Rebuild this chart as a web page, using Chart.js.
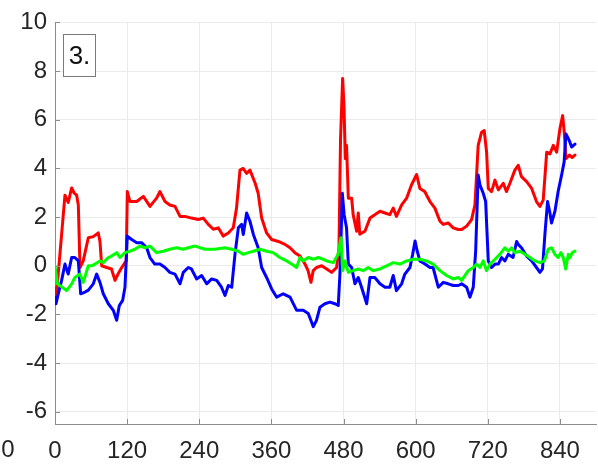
<!DOCTYPE html>
<html>
<head>
<meta charset="utf-8">
<script src="https://cdn.jsdelivr.net/npm/chart.js@4/dist/chart.umd.min.js"></script>
<style>
  html, body { margin: 0; padding: 0; background: #ffffff; }
  #wrap { width: 598px; height: 465px; position: relative; }
</style>
</head>
<body>
<div id="wrap"><canvas id="c" width="598" height="465"></canvas></div>
<script>
// Sample positions and values for the three traces
const redX = [0,2,16.6,22,27.7,31.6,36,38.8,41.6,47,55.4,63.7,72,74.8,77.7,86,94,99.8,105,111,116.4,118.5,120.3,124.7,136,147,158,169,174.6,183,191,199.6,208,216,227,238.5,246.7,255,263.4,271.6,280,288.3,296.6,302,307.7,313,318.8,324.3,333,338,343.8,352,360.4,371.5,382.6,390.9,399,407.5,416,421,425.8,429.6,435,443.6,452,460.2,468.5,472.4,475,478.5,480.7,483,485,488,493.5,496,501.8,504.5,507,515.6,524,532,540.6,549,557,562.7,568,576.7,585,593,601.6,607,615,623.8,632,640.4,646,654,662.5,670.8,676.5,684.8,693,698.6,704,709.7,714,718,720.8,726.3,731.9,737.5,745.7,751,756.8,765,770.6,776,784.6,793,801,806.7,812.2,818,823.4,829,834.5,840,844.5,847.2,850,856,860,865];
const redY = [-0.9,-1.3,2.9,2.6,3.2,3.0,2.9,2.5,-0.07,0.2,1.15,1.2,1.35,1.0,0.0,-0.07,-0.13,-0.6,-0.33,-0.07,0.13,0.2,3.05,2.64,2.64,2.85,2.44,2.78,3.05,2.64,2.5,2.44,2.03,2.03,1.96,1.9,1.96,1.7,1.5,1.56,1.22,1.35,1.56,2.37,3.93,4.0,3.8,3.93,3.39,2.98,1.96,1.35,1.08,1.0,0.88,0.74,0.54,0.4,0.07,-0.2,-0.68,-0.2,-0.07,0.0,-0.13,-0.27,-0.07,0.74,5.2,7.7,6.6,4.4,4.95,2.78,2.78,2.1,1.42,2.17,1.3,1.42,1.96,2.1,2.24,2.17,2.1,2.37,2.03,2.5,2.78,3.32,3.75,3.18,3.05,2.64,2.37,1.83,1.7,1.76,1.56,1.49,1.49,1.63,1.9,2.5,4.95,5.49,5.56,4.67,3.18,3.05,3.52,3.12,3.39,3.05,3.39,3.93,4.13,3.66,3.46,3.18,2.64,2.44,2.7,4.67,4.6,4.95,4.67,5.63,6.17,5.49,4.4,4.55,4.45,4.55];

const blueX = [0,1.7,5.5,11,16.6,22,27.7,33,38.8,42.7,50,55.5,63.7,69.3,74.8,80.3,88.7,97,102.6,107,112.6,116.4,120.3,127.5,136,144,152.5,158,166,174.6,183,191,199.6,208,213.4,221.7,227,235.7,244,252.3,260.6,269,277,282.8,288.3,294,299.4,305,310.5,313.2,318.8,324.3,330,338,343.8,352,360.4,368.8,379.7,391,402,413,421.3,429.7,435,440.8,449,457.4,465.7,471.2,474,478,481,485,488,493.5,499,504.5,510,518.5,524,532,540.6,549,557,562.7,568,576.7,582,590.5,595,599,602.6,607,615.5,623.8,629,637.6,646,654,662.5,670.8,676.5,684.8,690.3,695.8,699.8,704,707,712.4,716.4,720.8,726.3,732,737.5,743,748.5,754,762,768,770.6,776,784.6,793,801,806.7,811,815,819.4,823.4,826,831.7,837,842.8,847,850,854,856.6,859.4,865];
const blueY = [-1.3,-1.56,-1.15,-0.6,0.07,-0.34,0.34,0.34,0.2,-1.15,-1.08,-1.0,-0.74,-0.34,-0.68,-1.15,-1.56,-1.83,-2.24,-1.63,-1.42,-0.88,1.22,1.08,0.95,0.95,0.74,0.34,0.07,0.07,-0.07,-0.27,-0.34,-0.74,-0.27,-0.07,-0.13,-0.54,-0.4,-0.74,-0.54,-0.6,-0.88,-1.22,-0.81,-0.88,0.47,1.56,1.7,1.29,2.17,1.83,1.29,0.74,-0.07,-0.48,-0.95,-1.29,-1.15,-1.29,-1.83,-1.83,-1.96,-2.5,-2.24,-1.7,-1.56,-1.49,-1.56,-1.63,-0.34,2.98,2.1,1.56,0.07,-0.07,-0.74,-0.48,-0.88,-1.56,-0.48,-0.48,-0.74,-0.88,-0.88,-0.4,-1.02,-0.74,-0.34,-0.07,0.47,1.02,0.6,0.2,0.07,-0.07,-0.07,-0.88,-0.68,-0.74,-0.81,-0.81,-0.74,-0.88,-1.29,-0.88,0.6,3.73,3.32,2.98,2.64,0.2,-0.07,0.07,0.07,0.34,0.2,0.47,0.34,1.0,0.88,0.74,0.4,0.2,-0.07,-0.27,-0.13,1.29,2.64,2.17,1.76,2.24,3.05,3.73,4.27,5.42,5.22,5.08,4.88,5.0];

const greenX = [0,4,19.4,27.7,33,41.6,47,55.4,61,66.5,74.8,80.3,88.7,94,102.6,108,116.4,124.7,133,141.4,149.7,158,169,180,191,202,213.4,221.7,232.9,249.5,266,282.8,294,305,313,321.5,329.9,341,352,363,374,385.4,393.7,402,407.5,413,421.3,429.7,438,446,452,463,471,475.7,478.5,482.4,488,496,504.5,512.8,521,529.5,540.6,551.7,562.7,574,585,596,607,618,629,640.4,651.5,662.5,670.8,676.5,687.5,695.8,701.4,707,712.4,718,723.6,732,740,748.5,754,759.6,765,773.5,781.8,790,798.4,806.7,814,820.5,826,831.7,837,841.6,845.5,849.5,854,856.6,860.5,865];
const greenY = [0.0,-0.74,-1.02,-0.74,-0.48,-0.34,-0.68,0.0,0.0,0.07,0.2,0.13,0.34,0.4,0.54,0.34,0.54,0.6,0.68,0.81,0.74,0.81,0.54,0.6,0.68,0.74,0.68,0.74,0.81,0.68,0.68,0.74,0.68,0.6,0.47,0.54,0.6,0.68,0.6,0.54,0.34,0.2,0.07,-0.07,0.34,0.2,0.34,0.27,0.34,0.27,0.2,0.13,0.47,1.15,-0.2,0.2,-0.27,-0.2,-0.13,-0.2,-0.07,-0.2,-0.13,0.0,0.13,0.07,0.2,0.27,0.27,0.2,0.07,-0.2,-0.4,-0.54,-0.48,-0.6,-0.2,-0.07,0.07,-0.07,0.2,-0.2,0.07,0.27,0.47,0.74,0.6,0.74,0.54,0.6,0.47,0.34,0.2,0.13,0.2,0.68,0.74,0.47,0.34,0.54,0.34,-0.13,0.47,0.34,0.54,0.6];

const xTicks = [0,120,240,360,480,600,720,840];
const yTicks = [-6,-4,-2,0,2,4,6,8,10];
const panelLabel = '3.';

const FONT = '"Liberation Sans", Arial, Helvetica, sans-serif';
const AXIS_COLOR = '#8c8c8c';
const GRID_COLOR = '#ebebeb';
const TEXT_COLOR = '#262626';

function pts(xs, ys) { return xs.map((x, i) => ({ x: x, y: ys[i] })); }

// Inward tick marks, the panel tag and the leftover label at the lower left
const decorations = {
  id: 'decorations',
  afterDatasetsDraw(chart) {
    const { ctx, chartArea: a, scales: { x, y } } = chart;
    ctx.save();
    ctx.strokeStyle = AXIS_COLOR;
    ctx.lineWidth = 1;
    ctx.beginPath();
    xTicks.forEach(v => {
      const px = Math.round(x.getPixelForValue(v)) + 0.5;
      ctx.moveTo(px, a.bottom);
      ctx.lineTo(px, a.bottom - 5);
    });
    yTicks.forEach(v => {
      const py = Math.round(y.getPixelForValue(v)) + 0.5;
      ctx.moveTo(a.left, py);
      ctx.lineTo(a.left + 5, py);
    });
    ctx.stroke();

    // panel tag box
    ctx.fillStyle = '#ffffff';
    ctx.fillRect(63.5, 34.5, 32, 42);
    ctx.strokeStyle = '#7a7a7a';
    ctx.strokeRect(63.5, 34.5, 32, 42);
    ctx.fillStyle = '#111111';
    ctx.font = '26px ' + FONT;
    ctx.textAlign = 'center';
    ctx.textBaseline = 'middle';
    ctx.fillText(panelLabel, 79.5, 57);

    // stray tick label at the far left
    ctx.fillStyle = TEXT_COLOR;
    ctx.font = '24px ' + FONT;
    ctx.fillText('0', 8, 450);
    ctx.restore();
  }
};

new Chart(document.getElementById('c'), {
  type: 'line',
  data: {
    datasets: [
      { data: pts(redX, redY), borderColor: '#ff0000', order: 3 },
      { data: pts(blueX, blueY), borderColor: '#0000ff', order: 2 },
      { data: pts(greenX, greenY), borderColor: '#00ff00', order: 1 }
    ]
  },
  options: {
    responsive: false,
    animation: false,
    devicePixelRatio: 1,
    layout: { padding: { top: 19, right: 2, left: 0, bottom: 0 } },
    elements: {
      line: { borderWidth: 3, tension: 0, borderJoinStyle: 'round', borderCapStyle: 'round' },
      point: { radius: 0, hoverRadius: 0 }
    },
    plugins: { legend: { display: false }, tooltip: { enabled: false } },
    scales: {
      x: {
        type: 'linear',
        min: 0,
        max: 900,
        afterBuildTicks: s => { s.ticks = xTicks.map(v => ({ value: v })); },
        afterFit: s => { s.height = 41; },
        grid: { color: GRID_COLOR, lineWidth: 1, drawTicks: false },
        border: { display: true, color: AXIS_COLOR, width: 1 },
        ticks: { color: TEXT_COLOR, font: { family: FONT, size: 24 }, padding: 13, maxRotation: 0, autoSkip: false }
      },
      y: {
        type: 'linear',
        min: -6.5,
        max: 10,
        afterBuildTicks: s => { s.ticks = yTicks.map(v => ({ value: v })); },
        afterFit: s => { s.width = 55; },
        grid: { color: GRID_COLOR, lineWidth: 1, drawTicks: false },
        border: { display: true, color: AXIS_COLOR, width: 1 },
        ticks: { color: TEXT_COLOR, font: { family: FONT, size: 24 }, padding: 8, autoSkip: false }
      }
    }
  },
  plugins: [decorations]
});
</script>
</body>
</html>
